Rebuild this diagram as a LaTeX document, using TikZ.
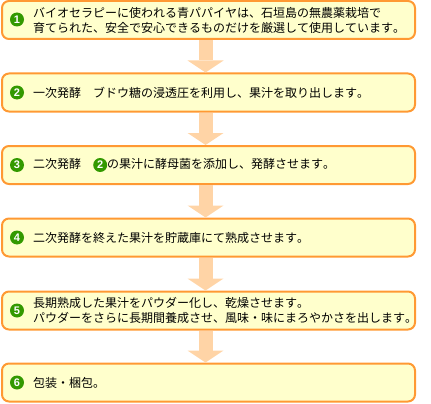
\documentclass[tikz,border=0pt]{standalone}
\usepackage{fontspec}
\setmainfont{Noto Sans CJK JP}[Kerning=Off]
\newfontfamily\chiffre{Liberation Sans}
\usetikzlibrary{arrows.meta}
\definecolor{fond}{HTML}{FFFFCC}
\definecolor{bord}{HTML}{FF9933}
\definecolor{peche}{HTML}{FFD4A6}
\definecolor{vert}{HTML}{339900}
\tikzset{
  etape/.style={draw=bord, fill=fond, line width=2pt, rounded corners=7pt,
    minimum width=413pt, minimum height=38pt, inner sep=0pt},
  numero/.style={circle, fill=vert, text=white, minimum size=14pt, inner sep=0pt,
    font=\chiffre\bfseries\fontsize{11}{11}\selectfont},
  texte/.style={anchor=west, inner sep=0pt, align=left,
    font=\fontsize{12}{15}\selectfont},
  fleche/.style={draw=peche, line width=14pt,
    -{Triangle[width=36pt,length=12pt,line width=0pt]}}
}
\begin{document}
\begin{tikzpicture}[x=1pt,y=-1pt]
	% Cadre de l'image
	\useasboundingbox (0,0) rectangle (431,404);
	% Axe des fleches
	\coordinate (axe) at (205.5,0);
	% Etapes
	\node[etape] (etape1) at (208.5,20) {};
	\node[etape] (etape2) at (208.5,92.5) {};
	\node[etape] (etape3) at (208.5,165) {};
	\node[etape] (etape4) at (208.5,237.5) {};
	\node[etape] (etape5) at (208.5,310.5) {};
	\node[etape] (etape6) at (208.5,382.5) {};
	% Fleches entre les etapes
	\draw[fleche] (etape1.south -| axe) -- (etape2.north -| axe);
	\draw[fleche] (etape2.south -| axe) -- (etape3.north -| axe);
	\draw[fleche] (etape3.south -| axe) -- (etape4.north -| axe);
	\draw[fleche] (etape4.south -| axe) -- (etape5.north -| axe);
	\draw[fleche] (etape5.south -| axe) -- (etape6.north -| axe);
	% Numeros
	\node[numero] (num1) at (17,19.5) {1};
	\node[numero] (num2) at (17,92.5) {2};
	\node[numero] (num3) at (17,165) {3};
	\node[numero] (num4) at (17,237.5) {4};
	\node[numero] (num5) at (17,310.5) {5};
	\node[numero] (num6) at (17,382.5) {6};
	% Textes
	\node[texte] (txt1) at (33,20) {バイオセラピーに使われる青パパイヤは、石垣島の無農薬栽培で\\育てられた、安全で安心できるものだけを厳選して使用しています。};
	\node[texte] (txt2) at (33,92.5) {一次発酵\quad ブドウ糖の浸透圧を利用し、果汁を取り出します。};
	\node[texte] (txt3) at (33,165) {二次発酵\quad\tikz[baseline=-3.5pt]\node[numero]{2};の果汁に酵母菌を添加し、発酵させます。};
	\node[texte] (txt4) at (33,237.5) {二次発酵を終えた果汁を貯蔵庫にて熟成させます。};
	\node[texte] (txt5) at (33,310.5) {長期熟成した果汁をパウダー化し、乾燥させます。\\パウダーをさらに長期間養成させ、風味・味にまろやかさを出します。};
	\node[texte] (txt6) at (33,382.5) {包装・梱包。};
\end{tikzpicture}
\end{document}
